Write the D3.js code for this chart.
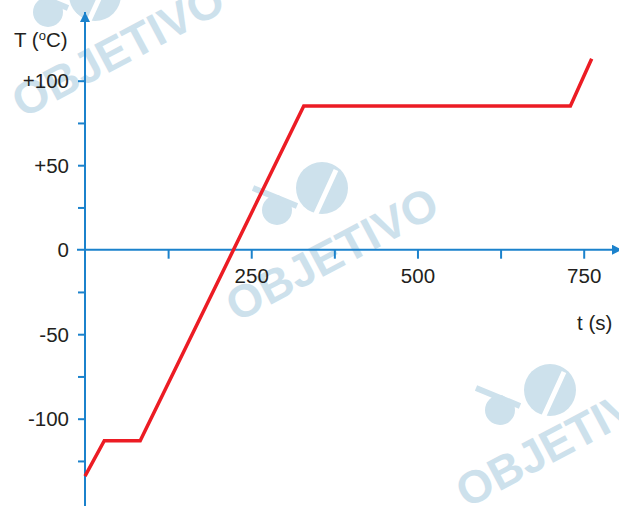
<!DOCTYPE html>
<html><head><meta charset="utf-8">
<script src="https://cdn.jsdelivr.net/npm/d3@7"></script>
<style>body{margin:0;background:#fff}svg{display:block}</style>
</head><body>
<svg id="c" width="619" height="506"></svg>
<script>
const timeS = [0, 29, 83, 329, 730, 762];
const tempC = [-134, -113, -113, 85, 85, 113];
const xTicks = [125, 250, 375, 500, 625, 750];
const xTickLabels = ["", "250", "", "500", "", "750"];
const yTicks = [-125, -100, -75, -50, -25, 25, 50, 75, 100];
const yLabelValues = [-100, -50, 0, 50, 100];
const yLabelTexts = ["-100", "-50", "0", "+50", "+100"];
const watermarks = ["OBJETIVO", "OBJETIVO", "OBJETIVO"];

const svg = d3.select("#c");
const blue = "#1b82cc", red = "#ec1c24", wm = "#cde1ec";
const font = "'Liberation Sans', Arial, sans-serif";
const x = d3.scaleLinear().domain([0, 750]).range([85, 583.7]);
const y = d3.scaleLinear().domain([-100, 100]).range([418.7, 80.7]);

// watermarks
const wmPos = [{tx:118, ty:50, cx:95, cy:-5, sx:48, sy:12},
               {tx:332, ty:254, cx:322, cy:188, sx:277, sy:210},
               {tx:562, ty:440, cx:550, cy:390, sx:500, sy:410}];
wmPos.forEach((p, i) => {
  const g = svg.append("g");
  g.append("circle").attr("cx", p.cx).attr("cy", p.cy).attr("r", 26).attr("fill", wm);
  g.append("circle").attr("cx", p.sx).attr("cy", p.sy).attr("r", 15).attr("fill", wm);
  g.append("path").attr("d", `M${p.sx-12},${p.sy-28} L${p.cx-8},${p.cy+30} L${p.cx+14},${p.cy-18}`)
    .attr("fill", "none").attr("stroke", "#fff").attr("stroke-width", 5);
  g.append("path").attr("d", `M${p.sx-24},${p.sy-22} L${p.sx+20},${p.sy-4}`)
    .attr("fill", "none").attr("stroke", wm).attr("stroke-width", 6);
  g.append("text").text(watermarks[i]).attr("x", p.tx).attr("y", p.ty)
    .attr("text-anchor", "middle").attr("dominant-baseline", "central")
    .attr("transform", `rotate(-28 ${p.tx} ${p.ty})`)
    .attr("font-family", font).attr("font-weight", "bold").attr("font-size", 46)
    .attr("fill", wm);
});

// axes lines with arrows
const defs = svg.append("defs");
defs.append("marker").attr("id", "arr").attr("viewBox", "0 0 10 10").attr("refX", 10).attr("refY", 5)
  .attr("markerWidth", 13).attr("markerHeight", 10).attr("markerUnits", "userSpaceOnUse")
  .attr("orient", "auto").append("path").attr("d", "M0,0 L10,5 L0,10 Z").attr("fill", blue);

svg.append("line").attr("x1", 77).attr("x2", 622).attr("y1", y(0)).attr("y2", y(0))
  .attr("stroke", blue).attr("stroke-width", 2).attr("marker-end", "url(#arr)");
svg.append("line").attr("x1", x(0)).attr("x2", x(0)).attr("y1", 506).attr("y2", 12)
  .attr("stroke", blue).attr("stroke-width", 2).attr("marker-end", "url(#arr)");

// x axis ticks
const xa = svg.append("g").attr("transform", `translate(0,${y(0)})`)
  .call(d3.axisBottom(x).tickValues(xTicks).tickSize(9).tickPadding(8)
    .tickFormat((d, i) => xTickLabels[i]));
xa.select(".domain").remove();
xa.selectAll(".tick line").attr("stroke", blue).attr("stroke-width", 2);
xa.selectAll(".tick text").attr("font-family", font).attr("font-size", 20.5).attr("fill", "#231f20").attr("dy", "0.71em")
  .attr("y", 19);

// y axis ticks
const ya = svg.append("g").attr("transform", `translate(${x(0)},0)`)
  .call(d3.axisLeft(y).tickValues(yTicks).tickSize(7).tickFormat(""));
ya.select(".domain").remove();
ya.selectAll(".tick line").attr("stroke", blue).attr("stroke-width", 2);
svg.append("g").selectAll("text").data(yLabelValues).join("text")
  .attr("x", 69).attr("y", d => y(d)).attr("dy", "0.36em").attr("text-anchor", "end")
  .attr("font-family", font).attr("font-size", 20.5).attr("fill", "#231f20")
  .text((d, i) => yLabelTexts[i]);

// axis titles
const tt = svg.append("text").attr("x", 14).attr("y", 47).attr("font-family", font).attr("font-size", 20.5).attr("fill", "#231f20");
tt.append("tspan").text("T (");
tt.append("tspan").text("o").attr("font-size", 13).attr("dy", -7);
tt.append("tspan").text("C)").attr("dy", 7);
svg.append("text").attr("x", 577).attr("y", 330).attr("font-family", font).attr("font-size", 20.5).attr("fill", "#231f20").text("t (s)");

// data line
const pts = timeS.map((t, i) => [t, tempC[i]]);
svg.append("path").datum(pts)
  .attr("d", d3.line().x(d => x(d[0])).y(d => y(d[1])))
  .attr("fill", "none").attr("stroke", red).attr("stroke-width", 3.5).attr("stroke-linejoin", "miter");
</script>
</body></html>
